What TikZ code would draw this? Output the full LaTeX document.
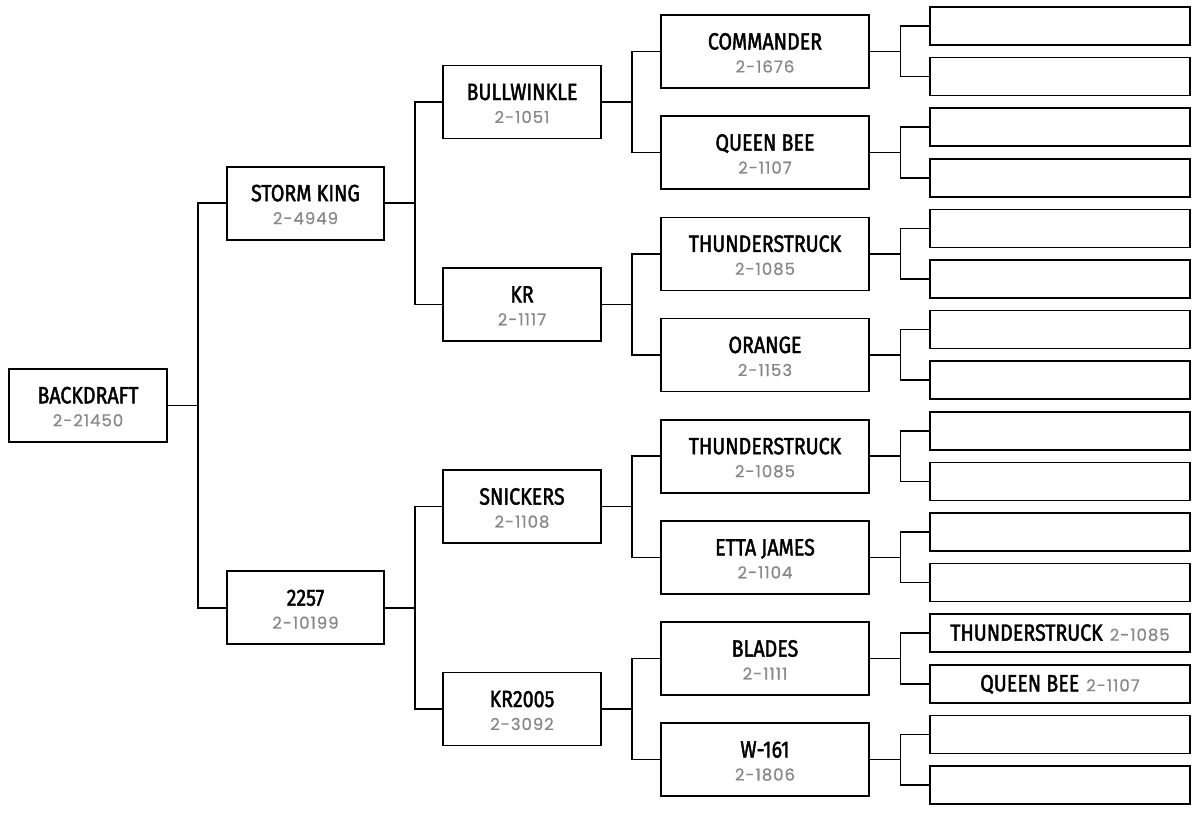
\documentclass[tikz,border=0pt]{standalone}
\usepackage{fontspec}
\setmainfont{Fira Sans}
\newfontfamily\namefont{Fira Sans}[FakeStretch=0.835,FakeBold=1.8]
\newfontfamily\numfont{Poppins}[LetterSpace=6,FakeBold=0.6]
\definecolor{numgray}{HTML}{888888}
\newcommand\bracketbox[6]{%
  \node[bbox, minimum width=#4pt] (#1) at (#2,#3) {};
  \node[titletext] (#1t) at ([yshift=2pt]#1.center) {#5};
  \node[numtext] (#1n) at ([yshift=-21pt]#1.center) {#6};
}
\begin{document}
\begin{tikzpicture}[x=1pt,y=-1pt,
  bbox/.style={draw=black, line width=1.6pt, fill=white, inner sep=0pt, minimum height=73pt},
  leafbox/.style={draw=black, line width=1.6pt, fill=white, inner sep=0pt, minimum width=260pt, minimum height=38pt},
  link/.style={line width=1.6pt, draw=black},
  titletext/.style={font=\namefont\fontsize{23.5}{23.5}\selectfont, anchor=base, inner sep=0pt},
  numtext/.style={font=\numfont\fontsize{16.5}{16.5}\selectfont, text=numgray, anchor=base, inner sep=0pt}]
\useasboundingbox (0,0) rectangle (1200,812);
% generation 0
\bracketbox{a}{88}{405.3}{158}{BACKDRAFT}{2-21450}
% generation 1
\bracketbox{b0}{305.5}{203.2}{157}{STORM KING}{2-4949}
\bracketbox{b1}{305.5}{607.7}{157}{2257}{2-10199}
% generation 2
\bracketbox{c0}{522}{102}{158}{BULLWINKLE}{2-1051}
\bracketbox{c1}{522}{304.4}{158}{KR}{2-1117}
\bracketbox{c2}{522}{506.6}{158}{SNICKERS}{2-1108}
\bracketbox{c3}{522}{709}{158}{KR2005}{2-3092}
% generation 3
\bracketbox{d0}{765}{51.5}{208}{COMMANDER}{2-1676}
\bracketbox{d1}{765}{152.6}{208}{QUEEN BEE}{2-1107}
\bracketbox{d2}{765}{253.8}{208}{THUNDERSTRUCK}{2-1085}
\bracketbox{d3}{765}{355}{208}{ORANGE}{2-1153}
\bracketbox{d4}{765}{456.2}{208}{THUNDERSTRUCK}{2-1085}
\bracketbox{d5}{765}{557.4}{208}{ETTA JAMES}{2-1104}
\bracketbox{d6}{765}{658.6}{208}{BLADES}{2-1111}
\bracketbox{d7}{765}{759.5}{208}{W-161}{2-1806}
% generation 4
\foreach \i in {0,...,15} {
  \node[leafbox] (e\i) at (1060,{26+50.6*\i}) {};
}
\node[titletext] (e12t) at ([yshift=-7.5pt]e12.center) {THUNDERSTRUCK\hspace{7pt}{\numfont\fontsize{16.5}{16.5}\selectfont\color{numgray}2-1085}};
\node[titletext] (e13t) at ([yshift=-7.5pt]e13.center) {QUEEN BEE\hspace{7pt}{\numfont\fontsize{16.5}{16.5}\selectfont\color{numgray}2-1107}};
% connectors
\foreach \p/\c in {a/b0,a/b1,b0/c0,b0/c1,b1/c2,b1/c3,c0/d0,c0/d1,c1/d2,c1/d3,c2/d4,c2/d5,c3/d6,c3/d7} {
  \draw[link] (\p.east) -- ++(30,0) |- (\c.west);
}
\foreach \i in {0,...,7} {
  \pgfmathtruncatemacro\ja{2*\i}
  \pgfmathtruncatemacro\jb{2*\i+1}
  \draw[link] (d\i.east) -- ++(30.5,0) |- (e\ja.west);
  \draw[link] (d\i.east) -- ++(30.5,0) |- (e\jb.west);
}
\end{tikzpicture}
\end{document}
